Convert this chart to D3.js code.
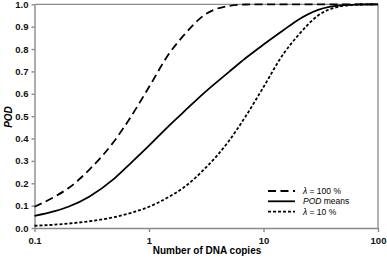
<!DOCTYPE html>
<html>
<head>
<meta charset="utf-8">
<script src="https://cdn.jsdelivr.net/npm/d3@7"></script>
<style>
  body { margin: 0; background: #fff; }
  svg text { font-family: "Liberation Sans", Arial, sans-serif; }
</style>
</head>
<body>
<svg id="chart" width="387" height="260"></svg>
<script>
// values
const copies = [0.1, 0.15, 0.2, 0.3, 0.5, 0.7, 1, 1.5, 2, 3, 5, 7, 10, 15, 20, 30, 50, 70, 100];
const podHigh = [0.095, 0.14, 0.18, 0.26, 0.39, 0.50, 0.63, 0.78, 0.86, 0.95, 0.993, 0.999, 1, 1, 1, 1, 1, 1, 1];
const podMean = [0.054, 0.075, 0.096, 0.14, 0.222, 0.292, 0.368, 0.458, 0.518, 0.602, 0.698, 0.76, 0.82, 0.885, 0.93, 0.975, 0.996, 0.999, 1];
const podLow = [0.01, 0.015, 0.02, 0.03, 0.049, 0.068, 0.095, 0.14, 0.18, 0.26, 0.39, 0.50, 0.63, 0.78, 0.86, 0.95, 0.993, 0.999, 1];
const xTicks = [0.1, 1, 10, 100];
const yTicks = [0, 0.1, 0.2, 0.3, 0.4, 0.5, 0.6, 0.7, 0.8, 0.9, 1.0];

const series = [
  { label: 'high', values: podHigh, dash: '8,4.5' },
  { label: 'mean', values: podMean, dash: null },
  { label: 'low', values: podLow, dash: '3,2' }
];

const LEFT = 34.5, RIGHT = 378, TOP = 4.3, BOTTOM = 228;
const AXIS_COLOR = '#8a8a8a';

const svg = d3.select('#chart');
const x = d3.scaleLog().domain([0.1, 100]).range([LEFT, RIGHT]);
const y = d3.scaleLinear().domain([0, 1]).range([BOTTOM, TOP]);

// frame top + right
svg.append('path')
  .attr('d', `M${LEFT},${TOP}H${RIGHT}V${BOTTOM}`)
  .attr('fill', 'none').attr('stroke', AXIS_COLOR).attr('stroke-width', 1.3);

const yAxis = svg.append('g')
  .attr('transform', `translate(${LEFT},0)`)
  .call(d3.axisLeft(y).tickValues(yTicks).tickFormat(d3.format('.1f')).tickSizeInner(3).tickSizeOuter(0).tickPadding(3));

const xAxis = svg.append('g')
  .attr('transform', `translate(0,${BOTTOM})`)
  .call(d3.axisBottom(x).tickValues(xTicks).tickFormat(d => d3.format('~g')(d)).tickSizeInner(4).tickSizeOuter(0).tickPadding(5));

[xAxis, yAxis].forEach(g => {
  g.selectAll('path, line').attr('stroke', AXIS_COLOR).attr('stroke-width', 1.4);
  g.selectAll('text').attr('fill', '#111').attr('font-size', '9.5px').attr('font-weight', 'bold')
    .style('font-family', '"Liberation Sans", Arial, sans-serif');
});

const line = d3.line()
  .x((d, i) => x(copies[i]))
  .y(d => y(d))
  .curve(d3.curveMonotoneX);

series.forEach(s => {
  svg.append('path')
    .datum(s.values)
    .attr('d', line)
    .attr('fill', 'none')
    .attr('stroke', '#000')
    .attr('stroke-width', 1.8)
    .attr('stroke-dasharray', s.dash);
});

// axis titles
svg.append('text')
  .attr('x', 207).attr('y', 254)
  .attr('text-anchor', 'middle')
  .attr('font-size', '10px').attr('font-weight', 'bold')
  .text('Number of DNA copies');

svg.append('text')
  .attr('transform', 'translate(12,117) rotate(-90)')
  .attr('text-anchor', 'middle')
  .attr('font-size', '10px').attr('font-weight', 'bold').attr('font-style', 'italic')
  .text('POD');

// legend
const legendRows = [
  { dash: '8,4.5', parts: [['λ', true], [' = 100 %', false]] },
  { dash: null, parts: [['POD', true], [' means', false]] },
  { dash: '3,2', parts: [['λ', true], [' = 10 %', false]] }
];
const legend = svg.append('g');
legendRows.forEach((r, i) => {
  const ly = 191 + i * 10.3;
  legend.append('line')
    .attr('x1', 268).attr('x2', 295).attr('y1', ly).attr('y2', ly)
    .attr('stroke', '#000').attr('stroke-width', 1.8)
    .attr('stroke-dasharray', r.dash);
  const t = legend.append('text')
    .attr('x', 303).attr('y', ly + 3)
    .attr('font-size', '8.5px');
  r.parts.forEach(p => {
    t.append('tspan').attr('font-style', p[1] ? 'italic' : 'normal').text(p[0]);
  });
});
</script>
</body>
</html>
